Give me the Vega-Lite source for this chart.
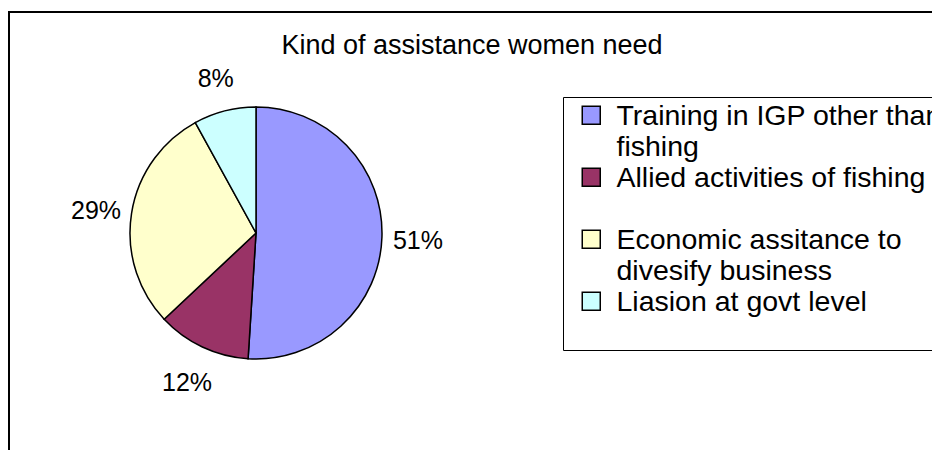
{
  "$schema": "https://vega.github.io/schema/vega-lite/v6.json",
  "width": 926,
  "height": 445,
  "autosize": "none",
  "padding": {"left": 9, "top": 12, "right": 0, "bottom": 0},
  "background": "white",
  "view": {"stroke": "black", "strokeWidth": 2, "fill": "white"},
  "title": {
    "text": "Kind of assistance women need",
    "font": "Liberation Sans",
    "fontSize": 27,
    "fontWeight": "normal",
    "color": "black",
    "anchor": "middle",
    "frame": "group",
    "baseline": "middle",
    "offset": -61
  },
  "config": {
    "view": {"stroke": "black", "strokeWidth": 2},
    "font": "Liberation Sans"
  },
  "data": {
    "values": [
      {"category": "Training in IGP other than fishing", "value": 0.51, "order": 1},
      {"category": "Allied activities of fishing", "value": 0.12, "order": 2},
      {"category": "Economic assitance to divesify business", "value": 0.29, "order": 3},
      {"category": "Liasion at govt level", "value": 0.08, "order": 4}
    ]
  },
  "encoding": {
    "theta": {"field": "value", "type": "quantitative", "stack": true},
    "order": {"field": "order", "type": "quantitative"}
  },
  "layer": [
    {
      "mark": {"type": "arc", "outerRadius": 126, "x": 247, "y": 221, "stroke": "black", "strokeWidth": 1.5},
      "encoding": {
        "color": {
          "field": "category",
          "type": "nominal",
          "sort": null,
          "scale": {
            "domain": ["Training in IGP other than fishing", "Allied activities of fishing", "Economic assitance to divesify business", "Liasion at govt level"],
            "range": ["#9999FF", "#993366", "#FFFFCC", "#CCFFFF"]
          },
          "legend": {
            "title": " ",
            "titleOrient": "bottom",
            "titleFontSize": 16,
            "titlePadding": 3,
            "orient": "none",
            "legendX": 554,
            "legendY": 85,
            "strokeColor": "black",
            "fillColor": "white",
            "padding": 14,
            "symbolType": "M-1,-2.1H1V-0.1H-1Z",
            "symbolSize": 324,
            "symbolStrokeColor": "black",
            "symbolStrokeWidth": 1.5,
            "symbolOpacity": 1,
            "labelFont": "Liberation Sans",
            "labelFontSize": 28.5,
            "labelColor": "black",
            "labelLimit": 1000,
            "labelOffset": 11,
            "labelBaseline": "alphabetic",
            "rowPadding": 2,
            "gridAlign": "all",
            "labelExpr": "datum.label == 'Training in IGP other than fishing' ? ['Training in IGP other than', 'fishing'] : datum.label == 'Economic assitance to divesify business' ? ['Economic assitance to', 'divesify business'] : datum.label"
          }
        }
      }
    },
    {
      "mark": {"type": "text", "radius": 162, "x": 247, "y": 221, "dy": 3, "fontSize": 25, "font": "Liberation Sans", "color": "black"},
      "encoding": {
        "text": {"field": "value", "type": "quantitative", "format": ".0%"}
      }
    }
  ]
}
